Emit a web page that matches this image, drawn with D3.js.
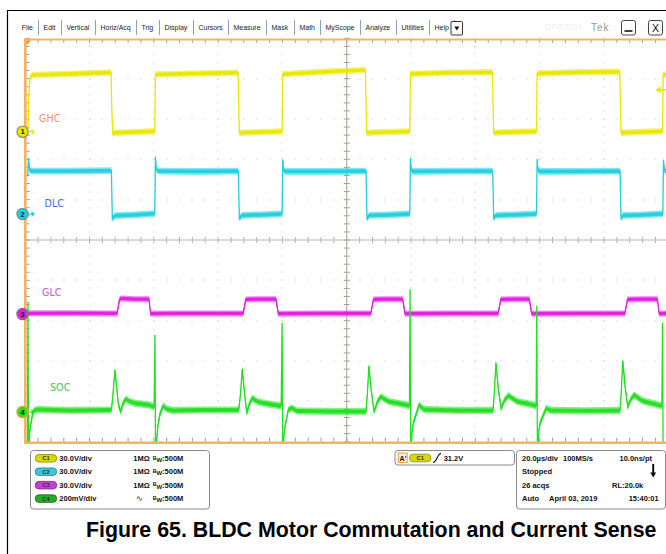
<!DOCTYPE html>
<html>
<head>
<meta charset="utf-8">
<script src="https://cdn.jsdelivr.net/npm/d3@7"></script>
<style>
body { margin: 0; background: #fff; }
svg { display: block; font-family: "Liberation Sans", Arial, sans-serif; }
</style>
</head>
<body>
<svg id="chart" width="666" height="554"></svg>
<script>
// ---- data ----
const menuItems = ["File", "Edit", "Vertical", "Horiz/Acq", "Trig", "Display", "Cursors",
    "Measure", "Mask", "Math", "MyScope", "Analyze", "Utilities", "Help"];
const traceNames = ["GHC", "DLC", "GLC", "SOC"];
const chanIds = ["C1", "C2", "C3", "C4"];
const chanScales = ["30.0V/div", "30.0V/div", "30.0V/div", "200mV/div"];
const chanCoupling = ["1MΩ", "1MΩ", "1MΩ", "∿"];
const chanBandwidth = ["500M", "500M", "500M", "500M"];
const triggerLevel = 31.2; // V on C1
const horizRows = [
    ["20.0µs/div", "100MS/s", "10.0ns/pt"],
    ["Stopped", "", ""],
    ["26 acqs", "", "RL:20.0k"],
    ["Auto", "April 03, 2019", "15:40:01"]
];
const caption = "Figure 65. BLDC Motor Commutation and Current Sense";

// time in µs, value in V (C1..C3) or mV (C4)
const ghcTrace = [[0.8, 0], [1.2, 30], [1.5, 40], [2.2, 42.2], [14, 43.0], [26.7, 44.0], [26.9, 20], [27.2, -1.5],
    [27.8, -0.8], [34, -0.3], [40.3, 0.3], [40.5, 42.5], [52, 43.2], [66.2, 43.8], [66.4, 20], [66.6, -0.8],
    [73, -0.3], [79.9, 0.2], [80.1, 42.8], [93, 44.6], [105.8, 45.8], [106.0, 20], [106.2, -0.8], [112, -0.3],
    [119.6, 0.2], [119.8, 43.0], [132, 43.9], [145.3, 44.2], [145.5, 20], [145.7, -0.8], [152, -0.2], [159.0, 0.2],
    [159.2, 43.3], [172, 44.2], [184.9, 44.6], [185.1, 20], [185.3, -0.8], [192, -0.2], [198.2, 0.3],
    [198.4, 42], [200, 43]];
const dlcTrace = [[0.8, 28], [1.0, 41.5], [1.4, 32.5], [2.2, 31.8], [14, 31.8], [26.8, 32.2], [27.1, -3.5],
    [28, -1.2], [34, -0.7], [40.3, 0.2], [40.5, 42.5], [40.8, 33], [41.3, 31.8], [54, 31.6], [66.3, 31.8],
    [66.6, -3.2], [67.4, -1.0], [73, -0.6], [79.9, 0.1], [80.1, 40.2], [80.4, 32.5], [80.9, 31.6], [93, 31.6],
    [106.0, 31.8], [106.3, -3.2], [107, -1.0], [113, -0.6], [119.6, 0.1], [119.8, 41.4], [120.1, 32.5],
    [120.6, 31.6], [132, 31.8], [145.4, 31.9], [145.7, -3.0], [146.4, -1.0], [152, -0.6], [159.0, 0.1],
    [159.2, 40.7], [159.5, 32.5], [160, 31.6], [172, 31.7], [185.0, 31.8], [185.3, -3.0], [186, -1.0],
    [192, -0.6], [198.3, 0.1], [198.5, 40.2], [198.8, 32.5], [199.3, 31.7], [200, 31.7]];
const glcTrace = [[0.8, 0.5], [14, 0.6], [28.6, 0.4], [29.3, 10.5], [29.8, 11.6], [34, 11.0], [38.5, 11.0],
    [39.0, 0.2], [44, 0.4], [67.8, 0.4], [68.6, 10.8], [72, 11.0], [78.0, 11.0], [78.7, 0.2], [90, 0.4],
    [107.5, 0.4], [108.3, 10.8], [112, 11.0], [117.4, 11.0], [118.1, 0.2], [130, 0.4], [147.1, 0.4],
    [147.9, 10.8], [152, 11.0], [156.8, 11.0], [157.5, 0.2], [170, 0.4], [186.5, 0.4], [187.3, 10.8],
    [192, 11.0], [196.6, 11.0], [197.2, 0.2], [200, 0.4]];
const socTrace = [[0.7, -250], [0.85, 547], [1.05, -250], [1.4, -95], [1.8, -55], [2.3, -10], [2.8, 8], [4, 12],
    [14, 8], [26.8, 10], [27.2, 70], [27.9, 208], [28.4, 130], [29.0, 35], [29.7, 2], [30.4, 42], [31.3, 64],
    [32.5, 52], [34.2, 43], [38.5, 35], [40.1, 25], [40.35, 382], [40.55, -250], [40.9, -140], [41.3, -65],
    [41.9, -10], [42.9, 30], [44.1, 14], [46, 8], [55, 10], [66.4, 10],
    [66.9, 80], [67.5, 213], [68.1, 110], [68.9, -6], [69.7, 40], [70.6, 68], [72.5, 50], [76.1, 38], [79.6, 30],
    [79.9, 443], [80.1, -250], [80.5, -110], [80.8, -73], [81.8, 10], [82.9, 20], [84.5, 5], [95, 3], [106.0, 3],
    [106.4, 90], [106.9, 228], [107.6, 110], [108.5, 2], [109.5, 50], [110.6, 76], [113, 52], [118.6, 35],
    [119.5, 30], [119.7, 608], [119.9, -250], [120.3, -100], [120.7, -55], [122.5, 35], [124, 12], [135, 8],
    [145.5, 8], [145.9, 100], [146.4, 244], [147.1, 120], [148.0, 18], [149.1, 60], [150.3, 81], [153, 52],
    [158.0, 35], [158.9, 30], [159.1, 527], [159.3, -250], [159.7, -100], [160.1, -56], [162.0, 18], [163.5, 8],
    [175, 6], [185.0, 8], [185.4, 110], [185.85, 254], [186.6, 120], [187.4, 26], [188.4, 65], [189.4, 84],
    [192, 55], [196.9, 35], [198.0, 30], [198.2, 441], [198.4, -250], [200, -250]];

// ---- layout ----
const GX0 = 25.2, GX1 = 668.3, GY0 = 38.3, GY1 = 441.7;
const svg = d3.select("#chart");

const xScale = d3.scaleLinear().domain([0, 200]).range([GX0, GX1]);
const xDiv = d3.scaleLinear().domain([-5, 5]).range([GX0, GX1]);
const yDiv = d3.scaleLinear().domain([-5, 5]).range([GY1, GY0]);

const channels = [
    {data: ghcTrace, perDiv: 30, offset: 2.685, color: "#e8e800", ring: "#9a9a60", label: "#f4935e", lx: 39, ly: 122, noise: 3.2, arrow: true},
    {data: dlcTrace, perDiv: 30, offset: 0.645, color: "#22cfe0", ring: "#6a9aa0", label: "#4b6ce0", lx: 44.5, ly: 206.5, noise: 3.4, arrow: true},
    {data: glcTrace, perDiv: 30, offset: -1.834, color: "#e21ee2", ring: "#8a6a90", label: "#c060c8", lx: 42, ly: 295.5, noise: 3.0, arrow: false},
    {data: socTrace, perDiv: 200, offset: -4.264, color: "#22e022", ring: "#f0a030", label: "#3cc860", lx: 50, ly: 390.5, noise: 3.6, arrow: true}
];

// page frame
svg.append("line").attr("x1", 7.5).attr("x2", 7.5).attr("y1", 10).attr("y2", 554)
    .attr("stroke", "#000").attr("stroke-width", 1.2);
svg.append("line").attr("x1", 7).attr("x2", 666).attr("y1", 10.5).attr("y2", 10.5)
    .attr("stroke", "#000").attr("stroke-width", 1.2);

// ---- menu bar ----
function drawMenu() {
    const g = svg.append("g").attr("fill", "#222");
    const baseSize = 7.4;
    const texts = menuItems.map(m => g.append("text").attr("y", 30).attr("font-size", baseSize).text(m));
    const raw = texts.map(t => t.node().getComputedTextLength());
    const start = 21.7, lastSep = 448.3, gapA = 5.5, gapB = 5;
    // shrink the font so that the items fit the span seen on the screen
    const fit = (lastSep - start - gapA * menuItems.length - gapB * (menuItems.length - 1)) / d3.sum(raw);
    const size = baseSize * Math.min(1, fit);
    texts.forEach(t => t.attr("font-size", size));
    const widths = raw.map(w => w * Math.min(1, fit));
    let xx = start;
    texts.forEach((t, i) => {
        t.attr("x", xx);
        const sx = Math.round(xx + widths[i] + gapA) + 0.5;
        g.append("line").attr("x1", sx).attr("x2", sx).attr("y1", 20).attr("y2", 35)
            .attr("stroke", "#8f9fc0").attr("stroke-width", 1);
        xx = sx + gapB;
    });
    // drop-down button
    g.append("rect").attr("x", 451).attr("y", 21.5).attr("width", 11.5).attr("height", 13.5)
        .attr("fill", "#fff").attr("stroke", "#333").attr("rx", 1);
    g.append("path").attr("d", "M454.3,26.5 L459.3,26.5 L456.8,30.5 Z").attr("fill", "#111");
    g.append("text").attr("x", 545).attr("y", 30).attr("font-size", 8.5).attr("fill", "#f0f0f0").text("DPO7104");
    g.append("text").attr("x", 591).attr("y", 31).attr("font-size", 10).attr("fill", "#9a9a9a")
        .attr("letter-spacing", 1).text("Tek");
    [621.5, 648.5].forEach(bx => {
        g.append("rect").attr("x", bx).attr("y", 20.5).attr("width", 14).attr("height", 14.5)
            .attr("fill", "#fff").attr("stroke", "#444").attr("rx", 2);
    });
    g.append("line").attr("x1", 624.5).attr("x2", 632.5).attr("y1", 31).attr("y2", 31)
        .attr("stroke", "#111").attr("stroke-width", 1.6);
    g.append("text").attr("x", 655.5).attr("y", 32).attr("text-anchor", "middle")
        .attr("font-size", 10.5).attr("fill", "#111").text("X");
}

// ---- graticule ----
function drawGraticule() {
    const g = svg.append("g");
    const minor = d3.range(-25, 26).map(k => k / 5);
    const major = [-4, -3, -2, -1, 1, 2, 3, 4];
    const dots = [];
    major.forEach(m => minor.forEach(k => {
        dots.push([xDiv(m), yDiv(k)]);
        dots.push([xDiv(k), yDiv(m)]);
    }));
    g.selectAll("rect.dot").data(dots).enter().append("rect")
        .attr("class", "dot")
        .attr("x", d => Math.round(d[0]) - 0.5).attr("y", d => Math.round(d[1]) - 0.5)
        .attr("width", 1).attr("height", 1).attr("fill", "#c4c4c4");

    // center cross
    g.append("line").attr("x1", xDiv(0)).attr("x2", xDiv(0)).attr("y1", GY0).attr("y2", GY1)
        .attr("stroke", "#a8a090").attr("stroke-width", 1);
    g.append("line").attr("x1", GX0).attr("x2", GX1).attr("y1", yDiv(0)).attr("y2", yDiv(0))
        .attr("stroke", "#b4b4b4").attr("stroke-width", 1);
    g.selectAll("line.ct").data(minor).enter().append("line").attr("class", "ct")
        .attr("x1", xDiv(0) - 3).attr("x2", xDiv(0) + 3)
        .attr("y1", d => yDiv(d)).attr("y2", d => yDiv(d))
        .attr("stroke", "#a8a090");
    g.selectAll("line.ch").data(minor).enter().append("line").attr("class", "ch")
        .attr("x1", d => xDiv(d)).attr("x2", d => xDiv(d))
        .attr("y1", yDiv(0) - 3).attr("y2", yDiv(0) + 3)
        .attr("stroke", "#b4b4b4");

    // edge ticks
    g.selectAll("line.et").data(minor).enter().append("line").attr("class", "et")
        .attr("x1", d => xDiv(d)).attr("x2", d => xDiv(d))
        .attr("y1", GY0 + 1).attr("y2", GY0 + 4.5).attr("stroke", "#9a9a9a");
    g.selectAll("line.eb").data(minor).enter().append("line").attr("class", "eb")
        .attr("x1", d => xDiv(d)).attr("x2", d => xDiv(d))
        .attr("y1", GY1 - 4).attr("y2", GY1).attr("stroke", "#9a9a9a");
    g.selectAll("line.el").data(minor).enter().append("line").attr("class", "el")
        .attr("x1", GX0 + 1).attr("x2", GX0 + 4.5)
        .attr("y1", d => yDiv(d)).attr("y2", d => yDiv(d)).attr("stroke", "#9a9a9a");
}

function drawFrame() {
    const g = svg.append("g").attr("stroke", "#f5b35e").attr("fill", "none");
    g.append("line").attr("x1", 24).attr("x2", 666).attr("y1", 39.4).attr("y2", 39.4).attr("stroke-width", 2);
    g.append("line").attr("x1", 24).attr("x2", 666).attr("y1", 442.8).attr("y2", 442.8).attr("stroke-width", 2.4);
    g.append("line").attr("x1", 25.3).attr("x2", 25.3).attr("y1", 38.4).attr("y2", 444).attr("stroke-width", 2.7);
    // trigger position marker
    svg.append("path").attr("d", "M26.5,40.5 L31,40.5 L26.5,45 Z").attr("fill", "#f08a20");
}

// ---- waveforms ----
function drawTraces() {
    svg.append("clipPath").attr("id", "plotclip").append("rect")
        .attr("x", GX0 + 1.5).attr("y", GY0 + 1).attr("width", GX1 - GX0).attr("height", GY1 - GY0);
    const g = svg.append("g").attr("clip-path", "url(#plotclip)");
    channels.forEach(c => {
        const yv = v => yDiv(c.offset + v / c.perDiv);
        const band = d3.area().x(d => xScale(d[0]))
            .y0(d => yv(d[1]) - c.noise).y1(d => yv(d[1]) + c.noise);
        const core = d3.line().x(d => xScale(d[0])).y(d => yv(d[1]));
        g.append("path").attr("d", band(c.data)).attr("fill", c.color).attr("fill-opacity", 0.55);
        g.append("path").attr("d", band.y0(d => yv(d[1]) - c.noise * 0.55).y1(d => yv(d[1]) + c.noise * 0.55)(c.data))
            .attr("fill", c.color).attr("fill-opacity", 0.9);
        g.append("path").attr("d", core(c.data)).attr("fill", "none")
            .attr("stroke", c.color).attr("stroke-width", 1.3);
    });
}

function drawMarkers() {
    const g = svg.append("g");
    channels.forEach((c, i) => {
        const y0 = yDiv(c.offset);
        g.append("text").attr("x", c.lx).attr("y", c.ly).attr("font-size", 9.6)
            .attr("font-family", "'DejaVu Sans', sans-serif")
            .attr("fill", c.label).text(traceNames[i]);
        if (c.arrow) {
            g.append("path").attr("d", `M29,${y0 - 0.6} L31.5,${y0 - 0.6} L31.5,${y0 - 3} L35,${y0} L31.5,${y0 + 3} L31.5,${y0 + 0.6} L29,${y0 + 0.6} Z`)
                .attr("fill", c.color);
        }
        g.append("circle").attr("cx", 22.6).attr("cy", y0).attr("r", 5.6)
            .attr("fill", c.color).attr("stroke", c.ring).attr("stroke-width", 1.4);
        g.append("text").attr("x", 22.6).attr("y", y0 + 2.6).attr("text-anchor", "middle")
            .attr("font-size", 7.5).attr("font-weight", "bold").attr("fill", "#222").text(i + 1);
    });
    // trigger level arrow on the right edge
    const ty = yDiv(channels[0].offset + triggerLevel / channels[0].perDiv);
    g.append("path").attr("d", `M655.5,${ty} L660.5,${ty - 3.5} L660.5,${ty - 0.7} L666,${ty - 0.7} L666,${ty + 0.7} L660.5,${ty + 0.7} L660.5,${ty + 3.5} Z`)
        .attr("fill", channels[0].color);
}

// ---- readout panels ----
function badge(g, bx, by, label, color) {
    g.append("rect").attr("x", bx).attr("y", by - 3.8).attr("width", 21.5).attr("height", 7.6)
        .attr("rx", 3.8).attr("fill", color).attr("stroke", d3.color(color).darker(1.2)).attr("stroke-width", 0.8);
    g.append("text").attr("x", bx + 10.75).attr("y", by + 2).attr("text-anchor", "middle")
        .attr("font-size", 5.8).attr("font-weight", "bold").attr("fill", "#333").text(label);
}

function drawPanels() {
    const g = svg.append("g").attr("font-weight", "bold").attr("font-size", 7.5).attr("fill", "#111");
    const panel = (x0, y0, w, h) => g.append("rect").attr("x", x0).attr("y", y0).attr("width", w).attr("height", h)
        .attr("rx", 3).attr("fill", "#fff").attr("stroke", "#8a8a8a").attr("stroke-width", 1);
    const rowY = d3.scaleLinear().domain([0, 3]).range([458.3, 498.6]);

    panel(30.5, 450.5, 179, 58.5);
    const badgeColors = ["#d8d800", "#38c8d8", "#c83cd8", "#2aa82a"];
    chanIds.forEach((id, i) => {
        const y = rowY(i);
        badge(g, 35.2, y, id, badgeColors[i]);
        g.append("text").attr("x", 59.3).attr("y", y + 2.7).text(chanScales[i]);
        g.append("text").attr("x", i === 3 ? 136 : 133.3).attr("y", y + 2.7)
            .attr("font-weight", i === 3 ? "normal" : "bold").text(chanCoupling[i]);
        const bw = g.append("text").attr("x", 152.7).attr("y", y + 2.7);
        bw.append("tspan").attr("font-size", 5.2).attr("dy", -1.5).text("B");
        bw.append("tspan").attr("font-size", 6).attr("dy", 2.5).text("W");
        bw.append("tspan").attr("dy", -1).text(":" + chanBandwidth[i]);
    });

    // trigger
    panel(395, 450.5, 119.5, 14.5);
    g.append("rect").attr("x", 398.2).attr("y", 453).attr("width", 9).attr("height", 9.5)
        .attr("fill", "#ececec").attr("stroke", "#f0a040").attr("stroke-width", 1);
    g.append("text").attr("x", 399.6).attr("y", 460.5).attr("font-size", 7).text("A'");
    badge(g, 409.5, 458, chanIds[0], badgeColors[0]);
    g.append("path").attr("d", "M433,462.3 C437,462.3 437,453.6 441,453.6").attr("fill", "none")
        .attr("stroke", "#111").attr("stroke-width", 1.1);
    g.append("text").attr("x", 443.7).attr("y", 460.8).text(triggerLevel.toFixed(1) + "V");

    // horizontal / acquisition
    panel(516.5, 450.5, 149, 58.5);
    const midX = [563, 0, 0, 549];
    const rightX = [652, 0, 643.3, 658.7];
    horizRows.forEach((r, i) => {
        const y = rowY(i) + 2.7;
        g.append("text").attr("x", 522).attr("y", y).text(r[0]);
        if (r[1]) g.append("text").attr("x", midX[i]).attr("y", y).text(r[1]);
        if (r[2]) g.append("text").attr("x", rightX[i]).attr("y", y).attr("text-anchor", "end").text(r[2]);
    });
    g.append("path").attr("d", "M652.2,464 L654.2,464 L654.2,472.5 L656.2,472.5 L653.2,477.5 L650.2,472.5 L652.2,472.5 Z")
        .attr("fill", "#111");
}

function drawCaption() {
    svg.append("text").attr("x", 86).attr("y", 536.6)
        .attr("font-size", 21.35).attr("font-weight", "bold").attr("fill", "#000")
        .text(caption);
}

drawMenu();
drawGraticule();
drawTraces();
drawFrame();
drawMarkers();
drawPanels();
drawCaption();
</script>
</body>
</html>
